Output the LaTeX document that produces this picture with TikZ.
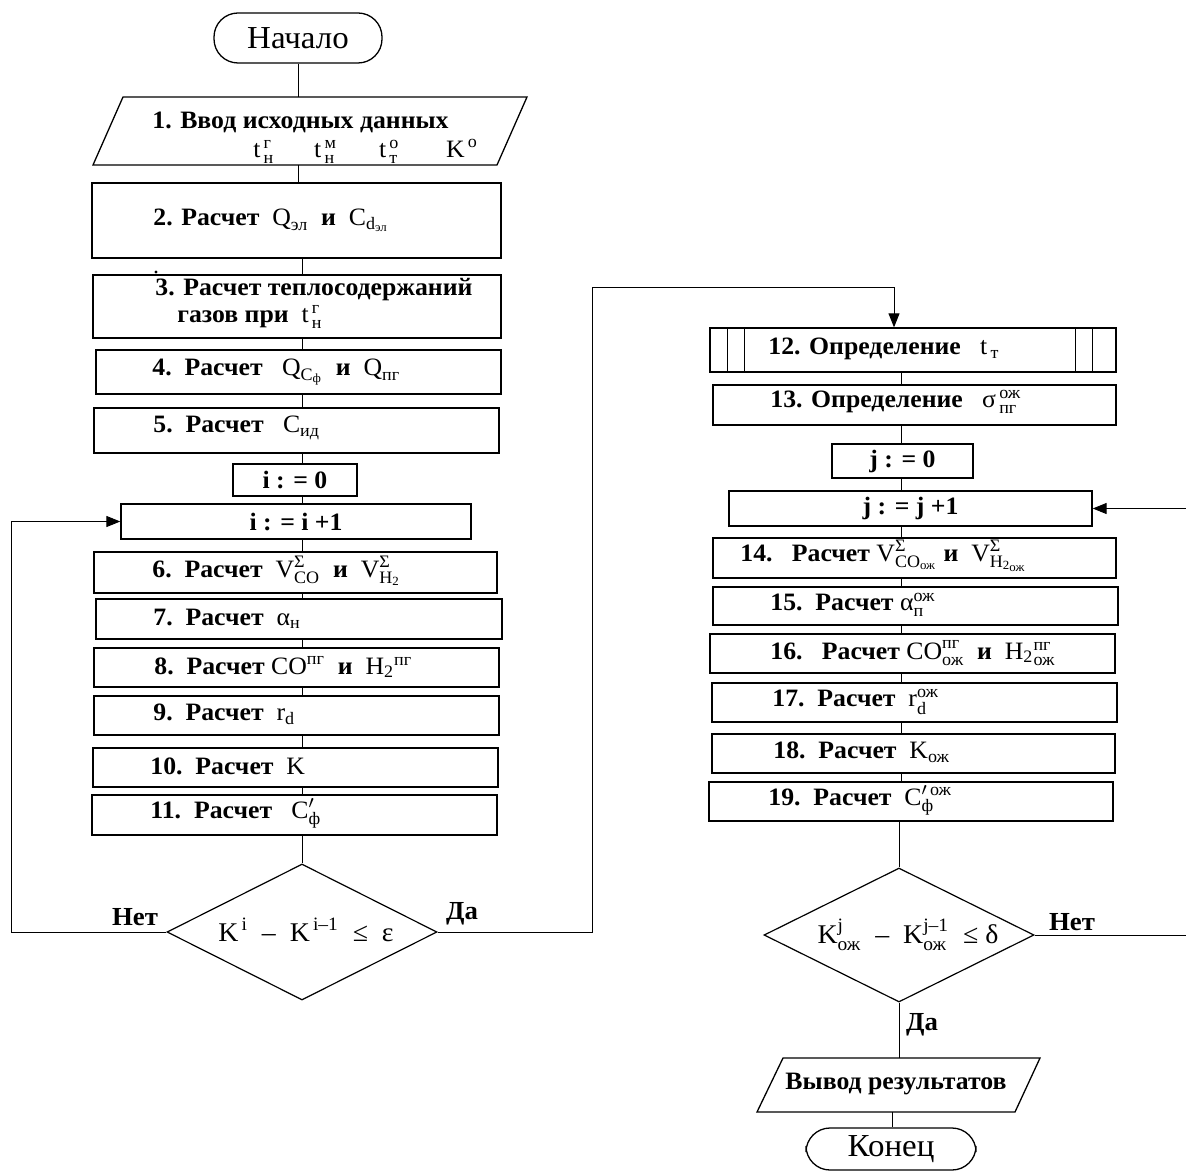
\documentclass[tikz,border=0pt]{standalone}
\usepackage{fontspec}
\setmainfont{Liberation Serif}
\usepackage{amsmath}
\usepackage{graphicx}
\usetikzlibrary{arrows.meta,shapes.geometric,fit}
\newcommand\sx[1]{\scalebox{1.03}[1]{#1}}
\newcommand\tx[1]{\textnormal{#1}}
\tikzset{
  box/.style={draw, rectangle, inner sep=0pt, line width=0.65pt},
  shp/.style={draw, line width=0.65pt},
  lbl/.style={anchor=west, inner sep=0pt, font=\bfseries\fontsize{12.5}{14}\selectfont},
  ctr/.style={inner sep=0pt, font=\bfseries\fontsize{12.5}{14}\selectfont},
  term/.style={draw, rectangle, rounded corners=12pt, inner sep=0pt, line width=0.65pt},
  termtxt/.style={inner sep=0pt, font=\fontsize{16}{18}\selectfont},
  dtxt/.style={inner sep=0pt, font=\fontsize{13.5}{15}\selectfont},
  dia/.style={draw, diamond, inner sep=0pt, line width=0.6pt},
  flow/.style={line width=0.5pt},
  arr/.style={flow, -{Triangle[length=7pt,width=5.5pt]}},
  yn/.style={inner sep=0pt, font=\bfseries\fontsize{13}{15}\selectfont},
}
\begin{document}
\begin{tikzpicture}[x=0.5pt,y=-0.5pt]
\useasboundingbox (0,0) rectangle (1186,1171);
\coordinate (cL) at (302,0);
\coordinate (cR) at (901,0);
\coordinate (cT) at (894,0);
\coordinate (cY) at (592,288);

% ---------- left column ----------
\node[term, fit={(214,13)(382,63)}] (start) {};
\node[termtxt] (starttxt) at (start) {\sx{Начало}};

\draw[shp] (123,97) -- (527,97) -- (497,165) -- (93,165) -- cycle;
\coordinate (p1t) at (298,97);
\coordinate (p1b) at (298,165);
\node[lbl] (t1a) at (152,122) {\sx{1. Ввод исходных данных}};
\node[lbl, font=\fontsize{12.5}{14}\selectfont] (t1b) at (253,151) {\sx{\makebox[29.5pt][l]{$\tx{t}^{\,\tx{г}}_{\,\tx{н}}$}\makebox[31.5pt][l]{$\tx{t}^{\,\tx{м}}_{\,\tx{н}}$}\makebox[32.5pt][l]{$\tx{t}^{\,\tx{о}}_{\,\tx{т}}$}$\tx{K}^{\,\tx{о}}$}};

\node[box, fit={(92,183)(501,258)}] (b2) {};
\node[lbl] (t2) at (153,220) {\sx{2. Расчет\ \ $\tx{Q}_{\tx{эл}}$\ \ и\ \ $\tx{C}_{\tx{d}_{\tx{эл}}}$}};
\fill (156,272) circle (0.8pt);

\node[box, fit={(93,275)(501,338)}] (b3) {};
\node[lbl] (t3a) at (155,290) {\sx{3. Расчет теплосодержаний}};
\node[lbl] (t3b) at (177,317) {\sx{газов при\ \ $\tx{t}^{\,\tx{г}}_{\,\tx{н}}$}};

\node[box, fit={(96,350)(501,394)}] (b4) {};
\node[lbl] (t4) at (152,372) {\sx{4.\ \ Расчет\ \ \ $\tx{Q}_{\tx{C}_{\tx{ф}}}$\ \ и\ \ $\tx{Q}_{\tx{пг}}$}};

\node[box, fit={(94,408)(499,453)}] (b5) {};
\node[lbl] (t5) at (153,428) {\sx{5.\ \ Расчет\ \ \ $\tx{C}_{\tx{ид}}$}};

\node[box, fit={(233,464)(357,496)}] (i0) {};
\node[ctr] (i0t) at (i0) {\sx{i : = 0}};

\node[box, fit={(121,504)(471,539)}] (ii) {};
\node[ctr] (iit) at (ii) {\sx{i : = i +1}};

\node[box, fit={(94,552)(497,593)}] (b6) {};
\node[lbl] (t6) at (152,571) {\sx{6.\ \ Расчет\ \ $\tx{V}^{\tx{Σ}}_{\tx{CO}}$\ \ и\ \ $\tx{V}^{\tx{Σ}}_{\tx{H}_{\tx{2}}}$}};

\node[box, fit={(96,599)(502,639)}] (b7) {};
\node[lbl] (t7) at (153,619) {\sx{7.\ \ Расчет\ \ $\tx{α}_{\tx{н}}$}};

\node[box, fit={(94,648)(499,687)}] (b8) {};
\node[lbl] (t8) at (154,667) {\sx{8.\ \ Расчет $\tx{CO}^{\tx{пг}}$\ \ и\ \ $\tx{H}_{\tx{2}}{}^{\tx{пг}}$}};

\node[box, fit={(94,696)(499,735)}] (b9) {};
\node[lbl] (t9) at (153,714) {\sx{9.\ \ Расчет\ \ $\tx{r}_{\tx{d}}$}};

\node[box, fit={(93,748)(498,787)}] (b10) {};
\node[lbl] (t10) at (150,766) {\sx{10.\ \ Расчет\ \ $\tx{K}$}};

\node[box, fit={(92,795)(497,835)}] (b11) {};
\node[lbl] (t11) at (150,813) {\sx{11.\ \ Расчет\ \ \ $\tx{C}'_{\tx{ф}}$}};

\node[dia, minimum width=135pt, minimum height=68pt] (d1) at (302,932) {};
\node[dtxt] (d1t) at (306,930) {\sx{$\tx{K}^{\,\tx{i}}\ \ \tx{–}\ \ \tx{K}^{\,\tx{i–1}}\ \ \tx{≤}\ \ \tx{ε}$}};
\node[yn] (no1) at (135,917) {\sx{Нет}};
\node[yn] (yes1) at (462,914) {\sx{Да}};

% ---------- right column ----------
\node[box, fit={(710,328)(1116,372)}] (b12) {};
\draw[shp] ([xshift=9pt]b12.north west) -- ([xshift=9pt]b12.south west);
\draw[shp] ([xshift=17.5pt]b12.north west) -- ([xshift=17.5pt]b12.south west);
\draw[shp] ([xshift=-12pt]b12.north east) -- ([xshift=-12pt]b12.south east);
\draw[shp] ([xshift=-20.5pt]b12.north east) -- ([xshift=-20.5pt]b12.south east);
\node[lbl] (t12) at (768,349) {\sx{12. Определение\ \ \ $\tx{t}_{\,\tx{т}}$}};

\node[box, fit={(713,385)(1116,425)}] (b13) {};
\node[lbl] (t13) at (770,402) {\sx{13. Определение\ \ \ $\tx{σ}^{\,\tx{ож}}_{\,\tx{пг}}$}};

\node[box, fit={(832,444)(973,478)}] (j0) {};
\node[ctr] (j0t) at (j0) {\sx{j : = 0}};

\node[box, fit={(729,491)(1092,526)}] (jj) {};
\node[ctr] (jjt) at (jj) {\sx{j : = j +1}};

\node[box, fit={(713,538)(1116,578)}] (b14) {};
\node[lbl] (t14) at (740,556) {\sx{14.\ \ \ Расчет $\tx{V}^{\tx{Σ}}_{\tx{CO}_{\tx{ож}}}$\ и\ \ $\tx{V}^{\tx{Σ}}_{\tx{H}_{\tx{2}_{\tx{ож}}}}$}};

\node[box, fit={(713,587)(1118,625)}] (b15) {};
\node[lbl] (t15) at (770,605) {\sx{15.\ \ Расчет $\tx{α}^{\tx{ож}}_{\tx{п}}$}};

\node[box, fit={(710,634)(1115,673)}] (b16) {};
\node[lbl] (t16) at (770,653) {\sx{16.\ \ \ Расчет $\tx{CO}^{\tx{пг}}_{\tx{ож}}$\ \ и\ \ $\tx{H}_{\tx{2}}{}^{\tx{пг}}_{\tx{ож}}$}};

\node[box, fit={(712,683)(1117,722)}] (b17) {};
\node[lbl] (t17) at (772,702) {\sx{17.\ \ Расчет\ \ $\tx{r}^{\tx{ож}}_{\tx{d}}$}};

\node[box, fit={(712,734)(1115,773)}] (b18) {};
\node[lbl] (t18) at (773,752) {\sx{18.\ \ Расчет\ \ $\tx{K}_{\tx{ож}}$}};

\node[box, fit={(709,782)(1113,821)}] (b19) {};
\node[lbl] (t19) at (768,800) {\sx{19.\ \ Расчет\ \ $\tx{C}'^{\,\tx{ож}}_{\tx{ф}}$}};

\node[dia, minimum width=135pt, minimum height=67pt] (d2) at (899,935) {};
\node[dtxt] (d2t) at (908,935) {\sx{$\tx{K}^{\tx{j}}_{\tx{ож}}\ \ \tx{–}\ \ \tx{K}^{\tx{j–1}}_{\tx{ож}}\ \ \tx{≤}\ \tx{δ}$}};
\node[yn] (no2) at (1072,922) {\sx{Нет}};
\node[yn] (yes2) at (922,1025) {\sx{Да}};

\draw[shp] (783,1058) -- (1040,1058) -- (1015,1112) -- (757,1112) -- cycle;
\coordinate (pot) at (899,1058);
\coordinate (pob) at (892,1112);
\node[ctr] (outt) at (896,1084) {\sx{Вывод результатов}};

\node[term, fit={(806,1128)(976,1170)}] (stop) {};
\node[termtxt] (stoptxt) at (stop) {\sx{Конец}};

% left connectors
\draw[flow] (start.south) -- (p1t);
\draw[flow] (p1b) -- (p1b |- b2.north);
\draw[flow] (b2.south -| cL) -- (b3.north -| cL);
\draw[flow] (b3.south -| cL) -- (b4.north -| cL);
\draw[flow] (b4.south -| cL) -- (b5.north -| cL);
\draw[flow] (b5.south -| cL) -- (i0.north -| cL);
\draw[flow] (i0.south -| cL) -- (ii.north -| cL);
\draw[flow] (ii.south -| cL) -- (b6.north -| cL);
\draw[flow] (b6.south -| cL) -- (b7.north -| cL);
\draw[flow] (b7.south -| cL) -- (b8.north -| cL);
\draw[flow] (b8.south -| cL) -- (b9.north -| cL);
\draw[flow] (b9.south -| cL) -- (b10.north -| cL);
\draw[flow] (b10.south -| cL) -- (b11.north -| cL);
\draw[flow] (b11.south -| d1.north) -- (d1.north);
\draw[arr] (d1.west) -- ++(-155,0) |- (ii.west);
\draw[arr] (d1.east) -| (cY) -| (b12.north -| cT);

% right connectors
\draw[flow] (b12.south -| cR) -- (b13.north -| cR);
\draw[flow] (b13.south -| cR) -- (j0.north -| cR);
\draw[flow] (j0.south -| cR) -- (jj.north -| cR);
\draw[flow] (jj.south -| cR) -- (b14.north -| cR);
\draw[flow] (b14.south -| cR) -- (b15.north -| cR);
\draw[flow] (b15.south -| cR) -- (b16.north -| cR);
\draw[flow] (b16.south -| cR) -- (b17.north -| cR);
\draw[flow] (b17.south -| cR) -- (b18.north -| cR);
\draw[flow] (b18.south -| cR) -- (b19.north -| cR);
\draw[flow] (b19.south -| d2.north) -- (d2.north);
\draw[flow] (d2.south) -- (pot);
\draw[flow] (pob) -- (pob |- stop.north);
\draw[arr] (d2.east) -- ++(160,0) |- (jj.east);
\end{tikzpicture}
\end{document}
